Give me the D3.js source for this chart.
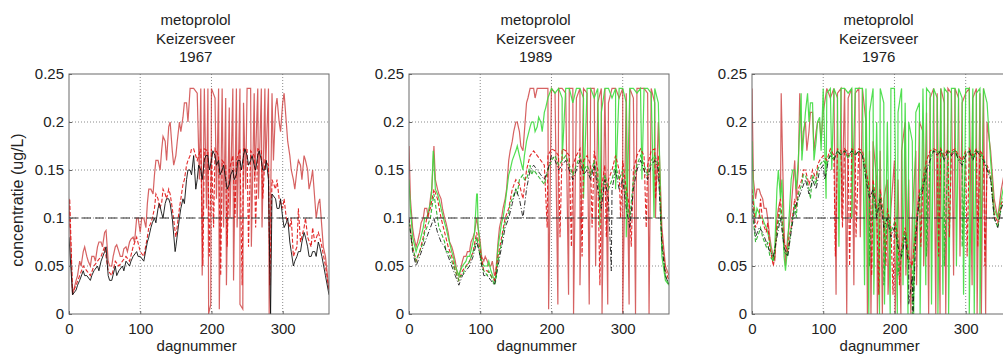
<!DOCTYPE html>
<html>
<head>
<meta charset="utf-8">
<script src="https://cdn.jsdelivr.net/npm/d3@7"></script>
<style>
  body { margin: 0; background: #fff; }
  svg { display: block; }
  text { font-family: Arial, "Liberation Sans", sans-serif; fill: #222; }
</style>
</head>
<body>
<svg id="chart" width="1003" height="356"></svg>
<script>
// values sampled every 5 days (day 0 .. 365); "detail" lists are extra [day, value] readings
const sampleStep = 5;
const titleLines = ["metoprolol", "Keizersveer"];
const years = ["1967", "1989", "1976"];
const xTicks = [0, 100, 200, 300];
const yTicks = [0, 0.05, 0.1, 0.15, 0.2, 0.25];
const yTickLabels = ["0", "0.05", "0.1", "0.15", "0.2", "0.25"];
const normValue = 0.1;

// 1967
const p1967Black = [
  0.08,0.02,0.025,0.035,0.045,0.04,0.035,0.045,0.05,0.055,
  0.065,0.04,0.035,0.05,0.045,0.05,0.055,0.05,0.06,0.065,
  0.06,0.055,0.075,0.09,0.1,0.11,0.105,0.115,0.12,0.1,
  0.07,0.1,0.12,0.14,0.15,0.165,0.14,0.15,0.16,0.165,
  0.16,0.165,0.16,0.15,0.14,0.135,0.15,0.145,0.16,0.165,
  0.165,0.16,0.155,0.165,0.16,0.15,0.14,0.125,0.12,0.11,
  0.1,0.095,0.075,0.05,0.06,0.065,0.085,0.07,0.06,0.065,
  0.075,0.06,0.04,0.02];
const p1967BlackDetail = [[12,0.03],[22,0.04],[32,0.04],[42,0.045],[52,0.07],[57,0.035],[67,0.04],
  [77,0.045],[87,0.055],[97,0.06],[112,0.08],[117,0.095],[122,0.095],[127,0.115],[132,0.1],
  [137,0.12],[142,0.115],[149,0.065],[157,0.11],[162,0.115],[167,0.15],[172,0.145],[178,0.13],
  [182,0.155],[187,0.14],[192,0.165],[197,0.15],[202,0.17],[207,0.155],[212,0.145],[217,0.155],
  [222,0.13],[227,0.145],[232,0.14],[237,0.16],[242,0.15],[247,0.172],[252,0.155],[257,0.165],
  [262,0.15],[267,0.17],[272,0.15],[277,0.16],[283,0],[292,0.11],[297,0.12],[302,0.09],[307,0.1],
  [312,0.065],[317,0.055],[322,0.065],[327,0.075],[332,0.08],[337,0.06],[342,0.065],[347,0.06],[352,0.07]];
const p1967RedLow = [
  0.09,0.022,0.03,0.04,0.05,0.045,0.04,0.05,0.055,0.06,
  0.07,0.045,0.04,0.055,0.05,0.055,0.06,0.055,0.07,0.08,
  0.065,0.06,0.08,0.095,0.11,0.12,0.115,0.125,0.13,0.11,
  0.08,0.11,0.135,0.155,0.165,0.172,0.16,0.172,0.172,0.17,
  0.172,0.172,0.165,0.16,0.155,0.15,0.165,0.16,0.172,0.172,
  0.172,0.17,0.165,0.172,0.17,0.16,0.155,0.14,0.13,0.12,
  0.11,0.1,0.09,0.06,0.07,0.075,0.09,0.08,0.07,0.075,
  0.085,0.07,0.05,0.025];
const p1967RedLowDetail = [[1,0.12],[112,0.09],[117,0.1],[122,0.125],[127,0.11],[132,0.13],
  [137,0.12],[142,0.125],[157,0.12],[162,0.14],[167,0.16],[172,0.172],[188,0.05],[197,0.06],
  [203,0.09],[213,0.04],[222,0.07],[233,0.1],[243,0.03],[252,0.07],[262,0.09],[272,0.12],[282,0.03],
  [292,0.14],[302,0.12],[312,0.1],[322,0.11],[332,0.1],[342,0.09],[352,0.08]];
const p1967RedHigh = [
  0.12,0.02,0.035,0.055,0.065,0.06,0.05,0.06,0.07,0.075,
  0.085,0.055,0.05,0.07,0.065,0.06,0.07,0.075,0.08,0.1,
  0.085,0.1,0.115,0.13,0.145,0.16,0.17,0.18,0.195,0.17,
  0.165,0.2,0.205,0.22,0.235,0.235,0.23,0.235,0.235,0.235,
  0.235,0.225,0.235,0.235,0.225,0.215,0.235,0.235,0.235,0.22,
  0.235,0.235,0.23,0.235,0.235,0.235,0.235,0.23,0.215,0.2,
  0.22,0.2,0.165,0.14,0.15,0.155,0.165,0.15,0.14,0.12,
  0.115,0.09,0.06,0.025];
const p1967RedHighDetail = [[12,0.04],[17,0.05],[22,0.07],[27,0.055],[32,0.06],[37,0.055],[42,0.075],
  [47,0.07],[52,0.087],[57,0.05],[62,0.06],[67,0.072],[72,0.06],[77,0.068],[82,0.065],[87,0.078],
  [92,0.075],[97,0.1],[102,0.1],[108,0.09],[112,0.13],[118,0.125],[122,0.16],[128,0.15],[132,0.185],
  [137,0.16],[142,0.2],[147,0.155],[152,0.18],[157,0.19],[162,0.22],[167,0.2],
  [183,0.14],[187,0.04],[193,0.11],[196,0],[199,0.01],[207,0.12],[211,0.005],[217,0.09],[221,0.03],
  [226,0.1],[231,0.035],[236,0.09],[240,0.01],[244,0.005],[248,0.13],[256,0.07],[261,0.14],[266,0.12],
  [271,0.09],[276,0.15],[281,0],[287,0.16],[292,0.225],[297,0.19],[302,0.23],[307,0.18],[312,0.15],
  [317,0.13],[322,0.16],[327,0.14],[332,0.16],[337,0.13],[342,0.15],[347,0.1],[352,0.12],[357,0.07]];

// 1989
const p1989Black = [
  0.1,0.065,0.05,0.06,0.07,0.08,0.09,0.1,0.085,0.075,
  0.07,0.06,0.05,0.04,0.03,0.04,0.045,0.05,0.06,0.075,
  0.06,0.04,0.04,0.035,0.03,0.05,0.07,0.09,0.1,0.115,
  0.13,0.12,0.1,0.13,0.15,0.155,0.15,0.145,0.14,0.15,
  0.165,0.16,0.15,0.155,0.16,0.15,0.14,0.15,0.16,0.145,
  0.15,0.14,0.155,0.13,0.11,0.14,0.12,0.13,0.15,0.13,
  0.14,0.11,0.09,0.13,0.15,0.16,0.15,0.14,0.155,0.16,
  0.15,0.07,0.04,0.03];
const p1989BlackDetail = [[284,0.045]];
const p1989RedLow = [
  0.1,0.07,0.055,0.065,0.08,0.1,0.11,0.13,0.12,0.1,
  0.085,0.07,0.06,0.045,0.035,0.045,0.05,0.055,0.065,0.085,
  0.065,0.045,0.045,0.04,0.035,0.06,0.08,0.1,0.11,0.13,
  0.14,0.135,0.12,0.15,0.165,0.17,0.165,0.16,0.155,0.165,
  0.172,0.17,0.165,0.172,0.17,0.165,0.155,0.165,0.172,0.16,
  0.165,0.155,0.17,0.15,0.13,0.155,0.14,0.15,0.165,0.15,
  0.16,0.13,0.11,0.15,0.165,0.172,0.165,0.155,0.17,0.172,
  0.165,0.08,0.045,0.035];
const p1989RedLowDetail = [[194,0.09],[212,0.08],[228,0.07],[243,0.06],[257,0.09],[268,0.03],
  [277,0.08],[297,0.1],[312,0.07],[333,0.09],[346,0.12]];
const p1989RedHigh = [
  0.175,0.09,0.07,0.085,0.1,0.11,0.12,0.175,0.13,0.12,
  0.1,0.085,0.07,0.055,0.04,0.055,0.06,0.065,0.08,0.1,
  0.075,0.055,0.055,0.05,0.04,0.075,0.1,0.12,0.16,0.18,
  0.2,0.19,0.17,0.22,0.235,0.235,0.235,0.235,0.235,0.235,
  0.235,0.23,0.235,0.235,0.23,0.235,0.235,0.225,0.235,0.235,
  0.23,0.235,0.235,0.22,0.235,0.235,0.22,0.235,0.235,0.225,
  0.235,0.23,0.235,0.225,0.235,0.235,0.235,0.23,0.235,0.22,
  0.2,0.09,0.05,0.04];
const p1989RedHighDetail = [[2,0.12],[7,0.08],[12,0.075],[17,0.095],[22,0.11],[27,0.1],[32,0.13],
  [37,0.14],[42,0.125],[47,0.11],[52,0.095],[57,0.075],[62,0.065],[67,0.045],[72,0.045],[77,0.06],
  [82,0.065],[87,0.075],[92,0.085],[97,0.09],[102,0.06],[107,0.06],[112,0.05],[117,0.055],[122,0.045],
  [127,0.09],[132,0.11],[137,0.13],[142,0.17],[147,0.19],[152,0.2],[157,0.175],[162,0.19],[167,0.225],
  [172,0.235],[177,0.225],
  [196,0.005],[209,0.01],[224,0.02],[231,0],[240,0.03],[253,0.01],[262,0.05],[271,0],[279,0.01],
  [300,0],[309,0.01],[318,0],[337,0],[346,0.1]];
const p1989GreenHigh = [
  0.14,0.08,0.065,0.075,0.09,0.1,0.115,0.16,0.125,0.11,
  0.095,0.08,0.065,0.05,0.04,0.05,0.055,0.06,0.075,0.125,
  0.07,0.05,0.05,0.045,0.035,0.07,0.095,0.115,0.145,0.16,
  0.17,0.165,0.15,0.18,0.195,0.2,0.195,0.2,0.21,0.225,
  0.235,0.23,0.235,0.225,0.235,0.235,0.22,0.235,0.235,0.225,
  0.235,0.235,0.225,0.235,0.21,0.235,0.235,0.225,0.235,0.235,
  0.235,0.22,0.235,0.235,0.23,0.235,0.235,0.235,0.23,0.235,
  0.22,0.06,0.035,0.03];
const p1989GreenHighDetail = [[2,0.11],[12,0.07],[22,0.1],[32,0.13],[34,0.17],[37,0.13],[42,0.12],
  [52,0.09],[62,0.06],[72,0.045],[82,0.06],[92,0.085],[96,0.125],[97,0.09],[102,0.055],[112,0.055],
  [122,0.04],[132,0.1],[142,0.15],[152,0.175],[162,0.165],[172,0.2],[177,0.19],[182,0.205],
  [187,0.19],[192,0.215],
  [215,0.16],[245,0.12],[268,0.09],[290,0.13],[305,0.08],[327,0.14],[344,0.1]];
const p1989GreenLow = [
  0.095,0.07,0.055,0.065,0.075,0.09,0.1,0.125,0.1,0.085,
  0.075,0.065,0.055,0.045,0.035,0.04,0.05,0.055,0.065,0.08,
  0.06,0.045,0.04,0.04,0.03,0.055,0.075,0.095,0.105,0.12,
  0.13,0.14,0.145,0.14,0.155,0.15,0.145,0.14,0.135,0.15,
  0.16,0.165,0.155,0.16,0.165,0.155,0.145,0.155,0.165,0.15,
  0.155,0.145,0.16,0.14,0.12,0.145,0.13,0.14,0.155,0.14,
  0.15,0.12,0.1,0.14,0.155,0.165,0.155,0.145,0.16,0.165,
  0.155,0.075,0.04,0.03];
const p1989GreenLowDetail = [[12,0.06],[22,0.085],[32,0.11],[42,0.09],[52,0.065],[62,0.05],
  [72,0.04],[82,0.05],[92,0.07],[102,0.05],[112,0.045],[122,0.035],[132,0.085],[142,0.115],
  [152,0.125],[162,0.14],[172,0.145]];

// 1976
const p1976Black = [
  0.12,0.08,0.09,0.085,0.075,0.065,0.06,0.08,0.1,0.07,
  0.06,0.085,0.11,0.12,0.13,0.14,0.125,0.14,0.13,0.15,
  0.155,0.15,0.165,0.16,0.17,0.165,0.17,0.165,0.17,0.165,
  0.17,0.165,0.14,0.12,0.13,0.1,0.12,0.09,0.1,0.08,
  0.09,0.07,0.06,0.08,0.05,0.04,0.08,0.12,0.13,0.15,
  0.16,0.17,0.165,0.17,0.16,0.17,0.165,0.17,0.16,0.155,
  0.165,0.17,0.16,0.17,0.165,0.16,0.15,0.14,0.1,0.09,
  0.11,0.12,0.11,0.1];
const p1976BlackDetail = [[102,0.14],[107,0.16],[220,0.01],[226,0]];
const p1976RedLow = [
  0.13,0.09,0.1,0.095,0.085,0.07,0.05,0.09,0.12,0.075,
  0.065,0.09,0.12,0.13,0.14,0.15,0.135,0.15,0.14,0.16,
  0.165,0.16,0.172,0.165,0.172,0.17,0.172,0.168,0.172,0.17,
  0.172,0.17,0.15,0.13,0.14,0.11,0.13,0.1,0.11,0.09,
  0.1,0.08,0.07,0.09,0.06,0.05,0.09,0.13,0.14,0.16,
  0.17,0.172,0.17,0.172,0.165,0.172,0.17,0.172,0.165,0.16,
  0.17,0.172,0.165,0.172,0.17,0.165,0.155,0.145,0.105,0.095,
  0.115,0.125,0.115,0.105];
const p1976RedLowDetail = [[12,0.12],[22,0.095],[32,0.06],[42,0.1],[52,0.08],[62,0.11],[72,0.15],
  [82,0.14],[92,0.155],[117,0.06],[127,0.09],[137,0.05],[146,0.08],[168,0.04],[178,0.02],
  [188,0.05],[198,0.02],[207,0.03],[237,0.07],[262,0.06],[277,0.08],[302,0.06],[317,0.07],[327,0.05]];
const p1976RedHigh = [
  0.235,0.12,0.13,0.12,0.11,0.08,0.06,0.1,0.12,0.09,
  0.08,0.11,0.16,0.15,0.17,0.2,0.19,0.21,0.19,0.2,
  0.21,0.235,0.225,0.235,0.23,0.235,0.235,0.225,0.235,0.23,
  0.235,0.235,0.2,0.17,0.18,0.14,0.17,0.12,0.14,0.11,
  0.16,0.14,0.17,0.2,0.14,0.1,0.17,0.2,0.19,0.21,
  0.225,0.235,0.23,0.235,0.22,0.235,0.23,0.235,0.225,0.22,
  0.23,0.235,0.225,0.235,0.23,0.235,0.2,0.17,0.12,0.1,
  0.13,0.15,0.13,0.12];
const p1976RedHighDetail = [[2,0.14],[7,0.13],[12,0.125],[17,0.11],[22,0.1],[27,0.07],[32,0.055],
  [37,0.11],[41,0.23],[47,0.05],[52,0.09],[57,0.13],[62,0.12],[67,0.23],[72,0.19],[77,0.17],
  [82,0.21],[87,0.17],[92,0.2],[97,0.18],
  [118,0.02],[126,0.1],[133,0],[143,0.03],[152,0.08],[162,0],[167,0],[176,0],[183,0],[191,0.02],
  [201,0],[209,0],[216,0.04],[223,0],[231,0.03],[241,0.05],[248,0],[258,0],[264,0],[272,0],
  [283,0.04],[292,0.06],[309,0.03],[316,0],[322,0],[328,0]];
const p1976GreenHigh = [
  0.18,0.1,0.105,0.1,0.09,0.075,0.055,0.13,0.12,0.06,
  0.07,0.14,0.15,0.16,0.16,0.21,0.2,0.22,0.18,0.205,
  0.235,0.23,0.235,0.235,0.225,0.235,0.235,0.23,0.235,0.235,
  0.235,0.235,0.235,0.21,0.235,0.2,0.235,0.22,0.2,0.235,
  0.235,0.21,0.235,0.22,0.2,0.18,0.21,0.22,0.235,0.235,
  0.23,0.235,0.225,0.235,0.235,0.23,0.235,0.235,0.235,0.225,
  0.235,0.235,0.235,0.23,0.235,0.235,0.22,0.16,0.11,0.1,
  0.12,0.14,0.125,0.11];
const p1976GreenHighDetail = [[2,0.12],[7,0.11],[12,0.1],[17,0.095],[22,0.085],[27,0.065],
  [32,0.07],[37,0.15],[42,0.14],[47,0.045],[52,0.1],[57,0.15],[62,0.13],[69,0.23],[72,0.18],
  [78,0.23],[82,0.22],[87,0.16],[92,0.2],[97,0.17],
  [104,0.12],[112,0.15],[122,0.07],[140,0.1],[158,0.03],[164,0],[171,0.02],[179,0],[186,0.01],
  [194,0],[204,0],[212,0.03],[219,0],[227,0],[236,0],[244,0.03],[252,0.01],[261,0],[268,0.02],
  [276,0],[287,0.05],[297,0.02],[305,0],[312,0],[320,0]];
const p1976GreenLow = [
  0.11,0.075,0.085,0.08,0.07,0.06,0.055,0.085,0.11,0.065,
  0.06,0.09,0.115,0.125,0.135,0.145,0.13,0.145,0.135,0.155,
  0.16,0.155,0.168,0.162,0.17,0.166,0.17,0.162,0.17,0.166,
  0.17,0.166,0.145,0.125,0.135,0.105,0.125,0.095,0.105,0.085,
  0.095,0.075,0.065,0.085,0.055,0.045,0.085,0.125,0.135,0.155,
  0.165,0.17,0.168,0.17,0.162,0.17,0.168,0.17,0.162,0.158,
  0.168,0.17,0.162,0.17,0.168,0.162,0.152,0.142,0.1,0.09,
  0.112,0.122,0.112,0.102];
const p1976GreenLowDetail = [[12,0.09],[22,0.075],[32,0.065],[42,0.095],[52,0.07],[62,0.1],
  [72,0.145],[82,0.12],[92,0.15],[165,0.05],[185,0.03],[205,0.04],[225,0],[245,0.06],[270,0.05],[295,0.07]];

const styles = {
  redHigh:   { stroke: "#cc3b3b", dash: null,      opacity: 0.8,  width: 1.2 },
  greenHigh: { stroke: "#3fdc3f", dash: null,      opacity: 0.9,  width: 1.2 },
  redLow:    { stroke: "#e01414", dash: "4,2",     opacity: 0.9,  width: 1.1 },
  greenLow:  { stroke: "#25b025", dash: "4,2",     opacity: 0.9,  width: 1.1 },
  black:     { stroke: "#111",    dash: null,      opacity: 0.9,  width: 1 },
  blackDash: { stroke: "#111",    dash: "5,2,1,2", opacity: 0.85, width: 1 }
};

const panels = [
  { year: years[0], left: 69, yLabel: true, series: [
    { values: p1967RedHigh, detail: p1967RedHighDetail, style: styles.redHigh },
    { values: p1967RedLow, detail: p1967RedLowDetail, style: styles.redLow },
    { values: p1967Black, detail: p1967BlackDetail, style: styles.black } ] },
  { year: years[1], left: 409, yLabel: false, series: [
    { values: p1989RedHigh, detail: p1989RedHighDetail, style: styles.redHigh },
    { values: p1989GreenHigh, detail: p1989GreenHighDetail, style: styles.greenHigh },
    { values: p1989RedLow, detail: p1989RedLowDetail, style: styles.redLow },
    { values: p1989GreenLow, detail: p1989GreenLowDetail, style: styles.greenLow },
    { values: p1989Black, detail: p1989BlackDetail, style: styles.blackDash } ] },
  { year: years[2], left: 752, yLabel: false, series: [
    { values: p1976RedHigh, detail: p1976RedHighDetail, style: styles.redHigh },
    { values: p1976GreenHigh, detail: p1976GreenHighDetail, style: styles.greenHigh },
    { values: p1976RedLow, detail: p1976RedLowDetail, style: styles.redLow },
    { values: p1976GreenLow, detail: p1976GreenLowDetail, style: styles.greenLow },
    { values: p1976Black, detail: p1976BlackDetail, style: styles.blackDash } ] }
];

const plotW = 260, plotTop = 74, plotBottom = 314;
const svg = d3.select("#chart");

function seriesPoints(values, detail) {
  return values.map((v, i) => [i * sampleStep, v]).concat(detail).sort((a, b) => a[0] - b[0]);
}

panels.forEach((p, pi) => {
  const x = d3.scaleLinear().domain([0, 365]).range([p.left, p.left + plotW]);
  const y = d3.scaleLinear().domain([0, 0.25]).range([plotBottom, plotTop]);
  const g = svg.append("g");

  // title
  const title = g.append("text")
    .attr("text-anchor", "middle")
    .style("font-size", "15px");
  titleLines.concat([p.year]).forEach((t, i) => {
    title.append("tspan").attr("x", x(182) - 3).attr("y", 25 + i * 18.5).text(t);
  });

  // grid
  g.selectAll(".gx").data(xTicks.slice(1)).join("line")
    .attr("x1", d => x(d)).attr("x2", d => x(d))
    .attr("y1", plotTop).attr("y2", plotBottom)
    .attr("stroke", "#8a8a8a").attr("stroke-dasharray", "1,2");
  g.selectAll(".gy").data(yTicks.slice(1, -1)).join("line")
    .attr("x1", x(0)).attr("x2", x(365))
    .attr("y1", d => y(d)).attr("y2", d => y(d))
    .attr("stroke", "#8a8a8a").attr("stroke-dasharray", "1,2");

  // lines
  const clipId = "clip" + pi;
  svg.append("clipPath").attr("id", clipId).append("rect")
    .attr("x", x(0)).attr("y", plotTop).attr("width", plotW).attr("height", plotBottom - plotTop);
  const line = d3.line().x(d => x(d[0])).y(d => y(d[1]));
  const lg = g.append("g").attr("clip-path", `url(#${clipId})`);
  p.series.forEach(s => {
    lg.append("path")
      .datum(seriesPoints(s.values, s.detail))
      .attr("d", line)
      .attr("fill", "none")
      .attr("stroke", s.style.stroke)
      .attr("stroke-opacity", s.style.opacity)
      .attr("stroke-width", s.style.width)
      .attr("stroke-dasharray", s.style.dash);
  });

  // norm line
  g.append("line")
    .attr("x1", x(0)).attr("x2", x(365))
    .attr("y1", y(normValue)).attr("y2", y(normValue))
    .attr("stroke", "#333").attr("stroke-width", 1).attr("stroke-dasharray", "9,4");

  // axes
  const ax = g.append("g").attr("transform", `translate(0,${plotBottom})`)
    .call(d3.axisBottom(x).tickValues(xTicks).tickSize(-3).tickPadding(9).tickFormat(d3.format("d")));
  const ay = g.append("g").attr("transform", `translate(${x(0)},0)`)
    .call(d3.axisLeft(y).tickValues(yTicks).tickSize(-3).tickPadding(5).tickFormat((d, i) => yTickLabels[i]));
  [ax, ay].forEach(a => {
    a.select(".domain").remove();
    a.selectAll(".tick line").attr("stroke", "#666");
    a.selectAll("text").style("font-size", "15px").attr("fill", "#222")
      .style("font-family", "Arial, 'Liberation Sans', sans-serif");
  });

  // frame
  g.append("rect")
    .attr("x", x(0)).attr("y", plotTop).attr("width", plotW).attr("height", plotBottom - plotTop)
    .attr("fill", "none").attr("stroke", "#6a6a6a");

  g.append("text")
    .attr("x", x(182) - 2).attr("y", 351)
    .attr("text-anchor", "middle").style("font-size", "15px")
    .text("dagnummer");

  if (p.yLabel) {
    g.append("text")
      .attr("transform", `translate(23,${(plotTop + plotBottom) / 2 + 6}) rotate(-90)`)
      .attr("text-anchor", "middle").style("font-size", "16px")
      .text("concentratie (ug/L)");
  }
});
</script>
</body>
</html>
